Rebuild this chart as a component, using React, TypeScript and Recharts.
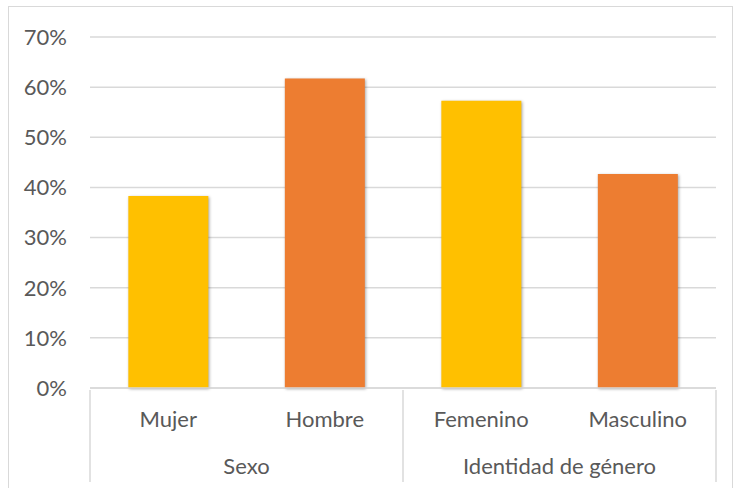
import { BarChart, Bar, XAxis, YAxis, CartesianGrid, Cell } from 'recharts';

const categories = ['Mujer', 'Hombre', 'Femenino', 'Masculino'];
const groups = ['Sexo', 'Sexo', 'Identidad de género', 'Identidad de género'];
const values = [38.3, 61.7, 57.3, 42.7];
const barColors = ['#FFC000', '#ED7D31', '#FFC000', '#ED7D31'];
const yTicks = [0, 10, 20, 30, 40, 50, 60, 70];

const data = categories.map((name, i) => ({ name, group: groups[i], value: values[i] }));

const W = 734;
const H = 488;
const M = { top: 37, right: 18, bottom: 0, left: 0 };
const Y_W = 90;
const X_H = 100;
const BAND = (W - M.left - M.right - Y_W) / categories.length;
const TEXT = '#595959';
const LINE = '#D9D9D9';
const FONT = 'Lato, "Open Sans", sans-serif';
const FS = 22;

function CategoryTick(props: any) {
  const { x, y, payload, index } = props;
  const left = x - BAND / 2;
  const right = x + BAND / 2;
  const isGroupStart = index === 0 || groups[index] !== groups[index - 1];
  const isLast = index === categories.length - 1;
  const groupEnd = isGroupStart
    ? groups.reduce((end, g, i) => (i >= index && g === groups[index] ? i : end), index)
    : index;
  const groupCenter = left + ((groupEnd - index + 1) * BAND) / 2;
  return (
    <g>
      <text x={x} y={y + 37} textAnchor="middle" fill={TEXT} fontSize={FS} fontFamily={FONT}>
        {payload.value}
      </text>
      {isGroupStart && (
        <>
          <line x1={left} x2={left} y1={y} y2={y + 92} stroke={LINE} strokeWidth={1.5} />
          <text x={groupCenter} y={y + 84} textAnchor="middle" fill={TEXT} fontSize={FS} fontFamily={FONT}>
            {groups[index]}
          </text>
        </>
      )}
      {isLast && <line x1={right} x2={right} y1={y} y2={y + 92} stroke={LINE} strokeWidth={1.5} />}
    </g>
  );
}

export default function App() {
  return (
    <div style={{ position: 'fixed', left: 0, top: 0, width: W, height: H, background: '#fff' }}>
      <div
        style={{
          position: 'absolute',
          left: 8,
          top: 6,
          width: W - 9,
          height: H,
          border: '1.5px solid #D9D9D9',
          boxSizing: 'border-box',
        }}
      />
      <BarChart width={W} height={H} data={data} margin={M} barCategoryGap="24.5%">
        <CartesianGrid vertical={false} stroke={LINE} strokeWidth={1.5} />
        <YAxis
          width={Y_W}
          domain={[0, 70]}
          ticks={yTicks}
          tickFormatter={(v: number) => `${v}%`}
          axisLine={false}
          tickLine={false}
          tickSize={6}
          tickMargin={17}
          tick={{ fill: TEXT, fontSize: FS, fontFamily: FONT }}
          interval={0}
        />
        <XAxis
          dataKey="name"
          height={X_H}
          axisLine={{ stroke: LINE, strokeWidth: 1.5 }}
          tickLine={false}
          tickSize={0}
          interval={0}
          tick={<CategoryTick />}
        />
        <Bar dataKey="value" isAnimationActive={false}>
          {data.map((_, i) => (
            <Cell
              key={i}
              fill={barColors[i]}
              style={{ filter: 'drop-shadow(1px 1px 1.5px rgba(0,0,0,0.35))' }}
            />
          ))}
        </Bar>
      </BarChart>
    </div>
  );
}
